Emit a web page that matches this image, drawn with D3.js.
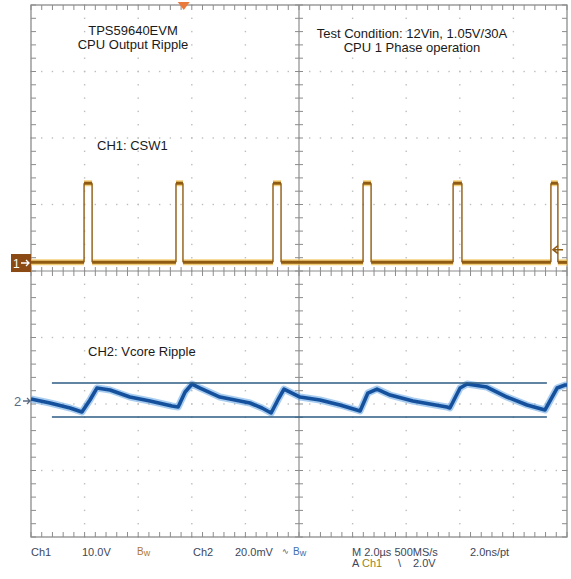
<!DOCTYPE html>
<html>
<head>
<meta charset="utf-8">
<script src="https://cdn.jsdelivr.net/npm/d3@7"></script>
<style>
  body { margin: 0; background: #fff; }
  text { font-family: "Liberation Sans", Arial, sans-serif; }
</style>
</head>
<body>
<svg id="scope" width="571" height="579"></svg>
<script>
// CH1 (switch node) pulse edges, µs from left edge of the screen
const pulseRise = [1.98, 5.41, 9.03, 12.39, 15.75, 19.40]
const pulseFall = [2.28, 5.67, 9.33, 12.69, 16.08, 19.66]
const ch1Low = 0.1
const ch1High = 12.0

// CH2 output ripple, µs and mV
const rippleTime = [0.00, 0.71, 1.46, 1.90, 2.20, 2.46, 2.95, 3.69, 4.44, 5.26, 5.49, 5.75, 6.01, 6.31,
  7.05, 8.17, 8.62, 8.96, 9.25, 9.44, 10.04, 10.78, 11.53, 12.28, 12.57, 12.91, 13.40, 14.25,
  15.52, 15.63, 15.82, 16.01, 16.27, 17.01, 17.76, 18.51, 19.18, 19.63, 19.93, 20.0]
const rippleMv = [0.6, -0.6, -2.1, -3.3, 0.3, 3.9, 3.3, 1.2, 0.0, -1.5, -1.8, 2.7, 5.1, 3.9,
  1.2, -0.6, -2.1, -3.6, 0.9, 3.6, 1.2, 0.3, -1.2, -3.0, 2.4, 3.6, 1.8, 0.0,
  -1.8, -2.1, 0.9, 3.9, 5.1, 4.2, 1.2, -1.2, -2.7, 3.9, 4.8, 4.8]

// cursors
const cursorMv = [5.4, -4.8]
const cursorTime = [0.78, 19.25]

const triggerTime = 5.7
const triggerLevel = 2.0

// scope settings
const ch1Pos = 0.12, ch1Scale = 10     // div, V/div
const ch2Pos = -1.955, ch2Scale = 20   // div, mV/div

const svg = d3.select('#scope')

const x = d3.scaleLinear().domain([0, 20]).range([31, 567])
const ydiv = d3.scaleLinear().domain([-4, 4]).range([537, 5])
const y1 = (v) => ydiv(ch1Pos + v / ch1Scale)
const y2 = (mv) => ydiv(ch2Pos + mv / ch2Scale)

// ---- graticule
const grid = svg.append('g')
const majorT = d3.range(2, 19, 2).filter((t) => t !== 10)
const majorD = [-3, -2, -1, 1, 2, 3]
const minorT = d3.range(0, 20.01, 0.4)
const minorD = d3.range(-4, 4.01, 0.2)

majorT.forEach((t) => {
  grid.selectAll(null).data(minorD).enter().append('rect')
    .attr('x', x(t) - 0.7).attr('y', (d) => ydiv(d) - 0.7)
    .attr('width', 1.4).attr('height', 1.4).attr('fill', '#bdbdbd')
})
majorD.forEach((dv) => {
  grid.selectAll(null).data(minorT).enter().append('rect')
    .attr('x', (t) => x(t) - 0.7).attr('y', ydiv(dv) - 0.7)
    .attr('width', 1.4).attr('height', 1.4).attr('fill', '#bdbdbd')
})

// center cross
grid.append('line').attr('x1', x(10)).attr('x2', x(10)).attr('y1', ydiv(-4)).attr('y2', ydiv(4))
  .attr('stroke', '#8c8c8c').attr('stroke-width', 1.2)
grid.append('line').attr('x1', x(0)).attr('x2', x(20)).attr('y1', ydiv(0)).attr('y2', ydiv(0))
  .attr('stroke', '#8c8c8c').attr('stroke-width', 1.2)

grid.selectAll(null).data(minorT).enter().append('line')
  .attr('x1', (t) => x(t)).attr('x2', (t) => x(t))
  .attr('y1', ydiv(0) - 4).attr('y2', ydiv(0) + 5)
  .attr('stroke', '#8c8c8c')
grid.selectAll(null).data(minorD).enter().append('line')
  .attr('x1', x(10) - 4).attr('x2', x(10) + 4)
  .attr('y1', (d) => ydiv(d)).attr('y2', (d) => ydiv(d))
  .attr('stroke', '#8c8c8c')

// frame ticks
grid.selectAll(null).data(minorT).enter().append('line')
  .attr('x1', (t) => x(t)).attr('x2', (t) => x(t))
  .attr('y1', ydiv(4)).attr('y2', ydiv(4) + 5).attr('stroke', '#8c8c8c')
grid.selectAll(null).data(minorT).enter().append('line')
  .attr('x1', (t) => x(t)).attr('x2', (t) => x(t))
  .attr('y1', ydiv(-4)).attr('y2', ydiv(-4) - 5).attr('stroke', '#8c8c8c')
grid.selectAll(null).data(minorD).enter().append('line')
  .attr('x1', x(0)).attr('x2', x(0) + 5)
  .attr('y1', (d) => ydiv(d)).attr('y2', (d) => ydiv(d)).attr('stroke', '#8c8c8c')
grid.selectAll(null).data(minorD).enter().append('line')
  .attr('x1', x(20)).attr('x2', x(20) - 5)
  .attr('y1', (d) => ydiv(d)).attr('y2', (d) => ydiv(d)).attr('stroke', '#8c8c8c')

grid.append('rect')
  .attr('x', x(0)).attr('y', ydiv(4))
  .attr('width', x(20) - x(0)).attr('height', ydiv(-4) - ydiv(4))
  .attr('fill', 'none').attr('stroke', '#8c8c8c').attr('stroke-width', 1.3)

// ---- CH1 trace
const lows = []
let prev = 0
pulseRise.forEach((r, i) => {
  lows.push([prev, r])
  prev = pulseFall[i]
})
lows.push([prev, 20])
const highs = pulseRise.map((r, i) => [r, pulseFall[i]])

const ch1 = svg.append('g')
const drawLevels = (segs, v) => {
  ch1.selectAll(null).data(segs).enter().append('line')
    .attr('x1', (d) => x(d[0])).attr('x2', (d) => x(d[1]))
    .attr('y1', y1(v)).attr('y2', y1(v))
    .attr('stroke', '#f2c14e').attr('stroke-width', 6).attr('opacity', 0.75)
  ch1.selectAll(null).data(segs).enter().append('line')
    .attr('x1', (d) => x(d[0])).attr('x2', (d) => x(d[1]))
    .attr('y1', y1(v)).attr('y2', y1(v))
    .attr('stroke', '#8f5a12').attr('stroke-width', 3)
}
drawLevels(lows, ch1Low)
drawLevels(highs, ch1High)
ch1.selectAll(null).data(pulseRise.concat(pulseFall)).enter().append('line')
  .attr('x1', (t) => x(t)).attr('x2', (t) => x(t))
  .attr('y1', y1(ch1Low)).attr('y2', y1(ch1High))
  .attr('stroke', '#8f5a12').attr('stroke-width', 1.4)

// ---- CH2 trace
const ripple = rippleTime.map((t, i) => [t, rippleMv[i]])
const line2 = d3.line().x((d) => x(d[0])).y((d) => y2(d[1]))
svg.append('path').datum(ripple).attr('d', line2)
  .attr('fill', 'none').attr('stroke', '#4f9ae0').attr('stroke-width', 7).attr('opacity', 0.5)
  .attr('stroke-linejoin', 'round')
svg.append('path').datum(ripple).attr('d', line2)
  .attr('fill', 'none').attr('stroke', '#15509c').attr('stroke-width', 3.6)
  .attr('stroke-linejoin', 'round')

// cursors
svg.selectAll(null).data(cursorMv).enter().append('line')
  .attr('x1', x(cursorTime[0])).attr('x2', x(cursorTime[1]))
  .attr('y1', (d) => y2(d)).attr('y2', (d) => y2(d))
  .attr('stroke', '#2b5b83').attr('stroke-width', 1.5)

// ---- markers
const trigX = x(triggerTime)
svg.append('path')
  .attr('d', `M${trigX - 6},2 L${trigX + 6},2 L${trigX},10 Z`)
  .attr('fill', '#ea7a3c')

const trigY = y1(triggerLevel)
svg.append('path')
  .attr('d', `M${x(20) - 4},${trigY} L${x(20) - 13},${trigY} M${x(20) - 9},${trigY - 4} L${x(20) - 14},${trigY} L${x(20) - 9},${trigY + 4}`)
  .attr('fill', 'none').attr('stroke', '#8f5a12').attr('stroke-width', 1.6)

const g0 = y1(0)
svg.append('rect').attr('x', 11).attr('y', g0 - 9).attr('width', 20).attr('height', 18)
  .attr('fill', '#8b4a14')
svg.append('text').attr('x', 13).attr('y', g0 + 4.5).text('1')
  .attr('fill', '#fff').attr('font-size', 12)
svg.append('path').attr('d', `M21,${g0} L29,${g0} M26,${g0 - 3} L29,${g0} L26,${g0 + 3}`)
  .attr('fill', 'none').attr('stroke', '#fff').attr('stroke-width', 1.3)

const c0 = y2(0)
svg.append('text').attr('x', 14).attr('y', c0 + 5).text('2')
  .attr('fill', '#5b6b82').attr('font-size', 13)
svg.append('path').attr('d', `M23,${c0} L30,${c0} M27,${c0 - 3} L30,${c0} L27,${c0 + 3}`)
  .attr('fill', 'none').attr('stroke', '#5b6b82').attr('stroke-width', 1.3)

// ---- annotations
const note = (str, tx, ty, anchor) => svg.append('text')
  .attr('x', tx).attr('y', ty).attr('text-anchor', anchor || 'middle')
  .attr('font-size', 13).attr('fill', '#1a1a1a').text(str)

note('TPS59640EVM', 133, 35)
note('CPU Output Ripple', 133, 49)
note('Test Condition: 12Vin, 1.05V/30A', 412, 38)
note('CPU 1 Phase operation', 412, 52)
note('CH1: CSW1', 97, 150, 'start')
note('CH2: Vcore Ripple', 88, 356, 'start')

// ---- status bar
const status = svg.append('g').attr('font-size', 11)
const st = (str, tx, ty, color) => status.append('text')
  .attr('x', tx).attr('y', ty).attr('fill', color).text(str)

st('Ch1', 31, 556, '#3e4658')
st('10.0V', 82, 556, '#3e4658')
const bw1 = st('B', 137, 555, '#b07a30')
bw1.attr('font-size', 10)
bw1.append('tspan').attr('font-size', 9).attr('dy', 1).text('w')
st('Ch2', 193, 556, '#3e4658')
st('20.0mV', 235, 556, '#3e4658')
st('∿', 282, 554, '#3e4658').attr('font-size', 8)
const bw2 = st('B', 293, 555, '#3e6fb0')
bw2.attr('font-size', 10)
bw2.append('tspan').attr('font-size', 9).attr('dy', 1).text('w')
st('M 2.0µs 500MS/s', 352, 556, '#3e4658')
st('2.0ns/pt', 470, 556, '#3e4658')
st('A', 352, 567, '#3e4658')
st('Ch1', 362, 567, '#9a8424')
st('\\', 398, 567, '#3e4658')
st('2.0V', 413, 567, '#3e4658')
</script>
</body>
</html>
